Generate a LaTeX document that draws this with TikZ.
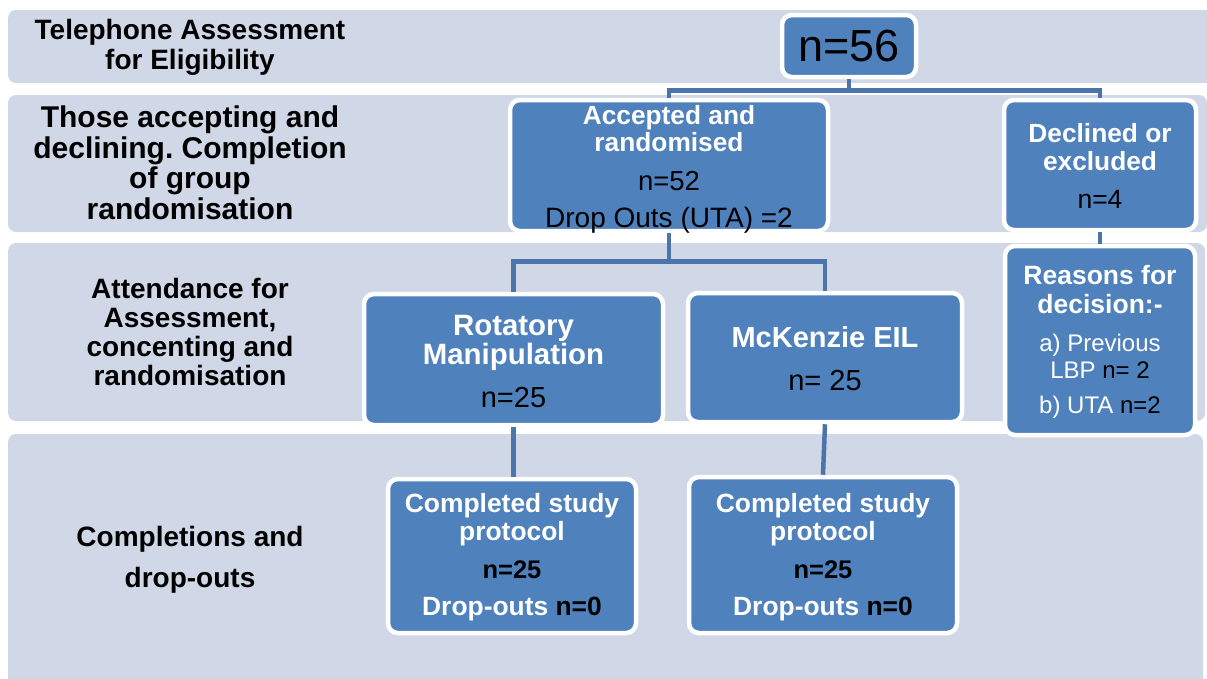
\documentclass[tikz,border=0pt]{standalone}
\usepackage{fontspec}
\usetikzlibrary{calc}
\setmainfont{Liberation Sans}
\frenchspacing
\definecolor{bandc}{HTML}{D0D8E8}
\definecolor{boxc}{HTML}{4F81BD}
\definecolor{linec}{HTML}{4A74AA}
\newcommand\fs[2]{\fontsize{#1}{#2}\selectfont}
\begin{document}
\begin{tikzpicture}[x=1pt,y=-1pt,
  band/.style={fill=bandc,draw=none,rounded corners=8pt},
  bbox/.style={fill=boxc,draw=white,line width=4.5pt,rounded corners=10pt,inner sep=0pt},
  lab/.style={align=center,text=black},
  btxt/.style={align=center,inner sep=0pt,text=white},
  conn/.style={draw=linec,line width=4.5pt}]
\useasboundingbox (0,0) rectangle (1207,678);
\fill[white] (0,0) rectangle (1207,678);
% bands
\path[band] (8,10) rectangle (1214,83);
\path[band] (8,95) rectangle (1207,232);
\path[band] (8,243) rectangle (1205,421);
\path[band] (8,434) rectangle (1203,690);
% left labels
\node[lab,font=\bfseries\fs{28}{30}] (l1) at (190,47) {Telephone Assessment\\for Eligibility};
\node[lab,font=\bfseries\fs{30}{30.5}] (l2) at (190,163) {Those accepting and\\declining. Completion\\of group\\randomisation};
\node[lab,font=\bfseries\fs{28}{29}] (l3) at (190,332) {Attendance for\\Assessment,\\concenting and\\randomisation};
\node[lab,font=\bfseries\fs{28}{41}] (l4) at (190,560) {Completions and\\drop-outs};
% boxes
\node[bbox,minimum width=134pt,minimum height=62pt,font=\fs{45}{46}] (n56) at (849,46) {n=56};
\node[bbox,minimum width=318pt,minimum height=131pt] (acc) at (669,165.5) {};
\node[btxt,font=\bfseries\fs{26.3}{27}] (acct) at (669,169) {Accepted and\\randomised\\[12pt]\mdseries\color{black}\fs{27.5}{27}n=52\\[10pt]\mdseries\color{black}\fs{28}{27}Drop Outs (UTA) =2};
\node[bbox,minimum width=192pt,minimum height=130pt] (dec) at (1100,165) {};
\node[btxt,font=\bfseries\fs{26.3}{28}] (dect) at (1100,166) {Declined or\\excluded\\[10pt]\mdseries\color{black}\fs{26.5}{28}n=4};
\node[bbox,minimum width=190pt,minimum height=189pt] (rea) at (1100,340.5) {};
\node[btxt,font=\bfseries\fs{26.5}{27}] (reat) at (1100,342) {Reasons for\\[2pt]decision:-\\[11pt]\mdseries\fs{24}{24}a) Previous\\\mdseries\fs{24}{24}LBP \textcolor{black}{n= 2}\\[8pt]\mdseries\fs{24}{24}b) UTA \textcolor{black}{n=2}};
\node[bbox,minimum width=299pt,minimum height=131pt] (rot) at (513.5,359.5) {};
\node[btxt,font=\bfseries\fs{29.4}{29}] (rott) at (513.5,361.5) {Rotatory\\Manipulation\\[14pt]\mdseries\color{black}\fs{29}{29}n=25};
\node[bbox,minimum width=274pt,minimum height=129pt] (mck) at (825,357.5) {};
\node[btxt,font=\bfseries\fs{29}{29}] (mckt) at (825,359) {McKenzie EIL\\[14pt]\mdseries\color{black}\fs{29}{29}n= 25};
\node[bbox,minimum width=248pt,minimum height=154pt] (c1) at (512,556) {};
\node[btxt,font=\bfseries\fs{26.4}{28}] (c1t) at (512,557) {Completed study\\protocol\\[10pt]\color{black}\fs{25.5}{28}n=25\\[9pt]Drop-outs \textcolor{black}{n=0}};
\node[bbox,minimum width=268pt,minimum height=156pt] (c2) at (823,555) {};
\node[btxt,font=\bfseries\fs{26.4}{28}] (c2t) at (823,557) {Completed study\\protocol\\[10pt]\color{black}\fs{25.5}{28}n=25\\[9pt]Drop-outs \textcolor{black}{n=0}};
% connectors
\coordinate (j1) at ($(n56.south)+(0,11)$);
\coordinate (j2) at ($(acc.south)+(0,28)$);
\draw[conn] (n56.south) -- (j1) -| (acc.north);
\draw[conn] (j1) -| (dec.north);
\draw[conn] (dec.south) -- (rea.north);
\draw[conn] (acc.south) -- (j2) -| (rot.north);
\draw[conn] (j2) -| (mck.north);
\draw[conn] (rot.south) -- (rot.south |- c1.north);
\draw[conn] (mck.south) -- (c2.north);
\end{tikzpicture}
\end{document}
